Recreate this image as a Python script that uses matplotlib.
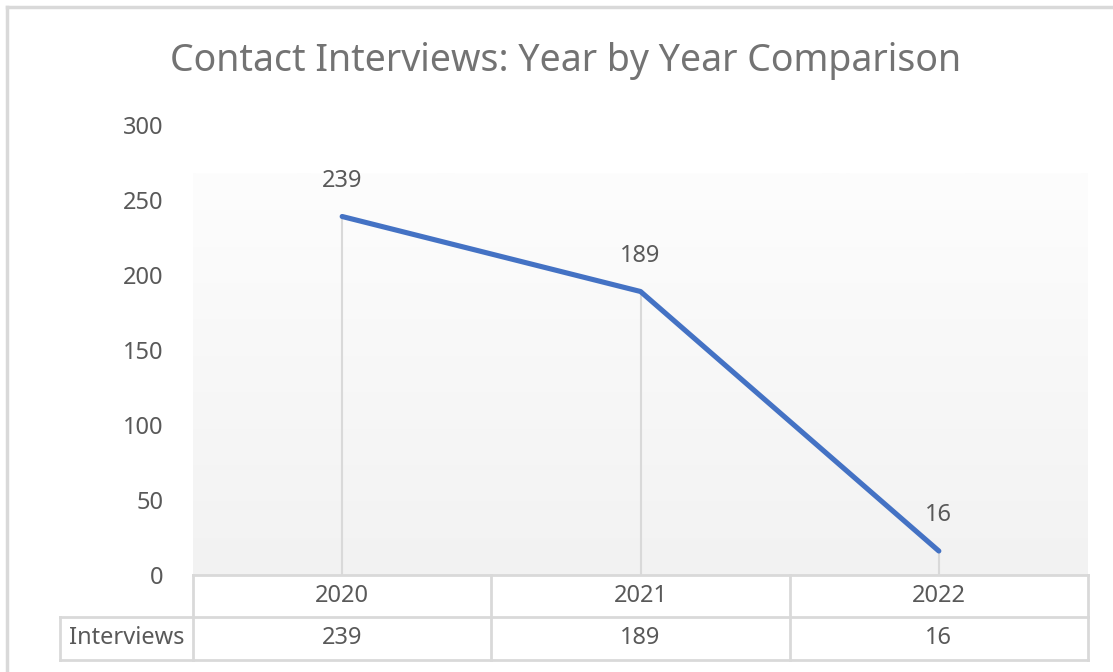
import numpy as np
import matplotlib.pyplot as plt
from matplotlib.lines import Line2D
import matplotlib.transforms as mtransforms
from matplotlib.colors import LinearSegmentedColormap

# data
years = ["2020", "2021", "2022"]
interviews = [239, 189, 16]
row_label = "Interviews"
title = "Contact Interviews: Year by Year Comparison"

plt.rcParams['font.family'] = ['Noto Sans', 'DejaVu Sans']
TXT = "#595959"
GRID = "#d9d9d9"
W, H = 1113, 672

fig = plt.figure(figsize=(W / 100, H / 100), dpi=100)
fig.patch.set_facecolor("white")

# axes placed in pixels of the reference
left, right, top, bottom = 193, 1088, 125, 575
ax = fig.add_axes([left / W, (H - bottom) / H, (right - left) / W, (bottom - top) / H])
ax.set_facecolor("none")

x = np.arange(len(years))
ax.set_xlim(-0.5, len(years) - 0.5)
ax.set_ylim(0, 300)

# plot-area gradient (white at top to light grey)
cmap = LinearSegmentedColormap.from_list("g", ["#f2f2f2", "#fdfdfd"])
grad = np.linspace(0, 1, 256).reshape(-1, 1)
ax.imshow(grad, extent=[-0.5, len(years) - 0.5, 0, 268], origin="lower",
          cmap=cmap, aspect="auto", zorder=0)

# drop lines and series
ax.vlines(x, 0, interviews, color=GRID, lw=1.5, zorder=1)
ax.plot(x, interviews, color="#4472C4", lw=3.7, solid_capstyle="round",
        solid_joinstyle="round", zorder=3)
for xi, v in zip(x, interviews):
    ax.annotate(str(v), (xi, v), xytext=(0, 17), textcoords="offset points",
                ha="center", va="bottom", fontsize=17, color=TXT)

ax.set_yticks([0, 50, 100, 150, 200, 250, 300])
ax.set_xticks([])
ax.tick_params(axis="y", length=0, pad=21, labelsize=17, labelcolor=TXT)
for s in ax.spines.values():
    s.set_visible(False)

# data table under the axis
trans = mtransforms.blended_transform_factory(ax.transData, ax.transAxes)
ph = bottom - top
cw = (right - left) / len(years)
y0 = 0
y1 = -(617 - bottom) / ph
y2 = -(660 - bottom) / ph
xl = -0.5 - (left - 60) / cw
xr = len(years) - 0.5

def tline(xs, ys):
    ax.add_line(Line2D(xs, ys, transform=trans, color=GRID, lw=2, clip_on=False))

tline([-0.5, xr], [y0, y0])
tline([xl, xr], [y1, y1])
tline([xl, xr], [y2, y2])
tline([xl, xl], [y1, y2])
for xv in np.arange(-0.5, len(years), 1.0):
    tline([xv, xv], [y0, y2])

for xi, yr, v in zip(x, years, interviews):
    ax.text(xi, (y0 + y1) / 2, yr, transform=trans, ha="center", va="center",
            fontsize=17, color=TXT)
    ax.text(xi, (y1 + y2) / 2, str(v), transform=trans, ha="center", va="center",
            fontsize=17, color=TXT)
ax.text((xl - 0.5) / 2, (y1 + y2) / 2, row_label, transform=trans, ha="center",
        va="center", fontsize=17, color=TXT)

# title
fig.text(566 / W, 1 - 61 / H, title, ha="center", va="center", fontsize=27,
         color="#737373")

# chart border (top and left visible)
fig.add_artist(Line2D([7 / W, 1.01], [1 - 7 / H, 1 - 7 / H], transform=fig.transFigure,
                      color=GRID, lw=2.5))
fig.add_artist(Line2D([7 / W, 7 / W], [1 - 7 / H, -0.01], transform=fig.transFigure,
                      color=GRID, lw=2.5))

fig.savefig("out.png", dpi=100)
